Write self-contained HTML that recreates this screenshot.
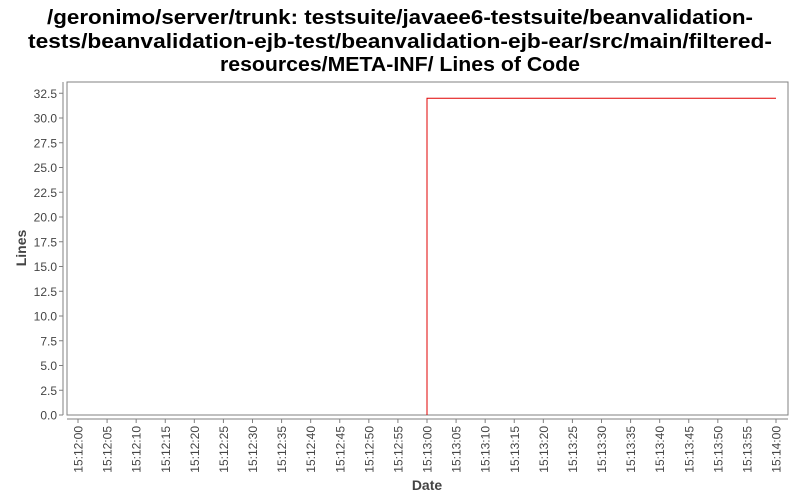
<!DOCTYPE html>
<html><head><meta charset="utf-8"><style>
html,body{margin:0;padding:0;background:#fff;}
svg{display:block;font-family:"Liberation Sans",Tahoma,sans-serif;}
</style></head><body>
<svg id="chart" width="800" height="500" viewBox="0 0 800 500" xmlns="http://www.w3.org/2000/svg">
<g font-weight="bold" font-size="20" text-anchor="middle" fill="#000">
<text x="400" y="24" textLength="706" lengthAdjust="spacingAndGlyphs">/geronimo/server/trunk: testsuite/javaee6-testsuite/beanvalidation-</text>
<text x="400" y="48" textLength="744" lengthAdjust="spacingAndGlyphs">tests/beanvalidation-ejb-test/beanvalidation-ejb-ear/src/main/filtered-</text>
<text x="400" y="71" textLength="360" lengthAdjust="spacingAndGlyphs">resources/META-INF/ Lines of Code</text>
</g>
<rect x="67" y="82" width="721" height="333" fill="#fff" stroke="#808080" stroke-width="1"/>
<line x1="63" y1="82" x2="63" y2="415" stroke="#808080"/>
<line x1="67" y1="419" x2="788" y2="419" stroke="#808080"/>
<g id="yticks"></g>
<g id="xticks"></g>
<g id="series"></g>
<text transform="translate(26,248) rotate(-90)" text-anchor="middle" font-size="14" font-weight="bold" fill="#444">Lines</text>
<text x="427" y="490" text-anchor="middle" font-size="14" font-weight="bold" fill="#444">Date</text>
</svg>
<script>
const yTicks = [0,2.5,5,7.5,10,12.5,15,17.5,20,22.5,25,27.5,30,32.5];
const xTickSeconds = [0,5,10,15,20,25,30,35,40,45,50,55,60,65,70,75,80,85,90,95,100,105,110,115,120];
const xTickLabels = ["15:12:00","15:12:05","15:12:10","15:12:15","15:12:20","15:12:25","15:12:30","15:12:35","15:12:40","15:12:45","15:12:50","15:12:55","15:13:00","15:13:05","15:13:10","15:13:15","15:13:20","15:13:25","15:13:30","15:13:35","15:13:40","15:13:45","15:13:50","15:13:55","15:14:00"];
const seriesSeconds = [60,60,120];
const seriesValues = [0,32,32];

const NS="http://www.w3.org/2000/svg";
function xs(s){return 78 + s*(349/60);}
function ys(v){return 415 - v*(297/30);}
const yg=document.getElementById('yticks');
yTicks.forEach(v=>{
  const y=ys(v);
  const l=document.createElementNS(NS,'line');
  
  
  l.setAttribute('x1',59);l.setAttribute('x2',63);l.setAttribute('y1',y);l.setAttribute('y2',y);l.setAttribute('stroke','#808080');
  yg.appendChild(l);
  const t=document.createElementNS(NS,'text');
  
  
  t.setAttribute('x',57);t.setAttribute('y',y+4.5);t.setAttribute('text-anchor','end');t.setAttribute('font-size','12');t.setAttribute('fill','#444');
  t.textContent=v.toFixed(1);
  yg.appendChild(t);
});
const xg=document.getElementById('xticks');
xTickSeconds.forEach((s,i)=>{
  const x=xs(s);
  const l=document.createElementNS(NS,'line');
  
  
  l.setAttribute('x1',x);l.setAttribute('x2',x);l.setAttribute('y1',419);l.setAttribute('y2',423);l.setAttribute('stroke','#808080');
  xg.appendChild(l);
  const t=document.createElementNS(NS,'text');
  
  
  t.setAttribute('transform','translate('+(x+4.5)+',426) rotate(-90)');
  t.setAttribute('text-anchor','end');t.setAttribute('font-size','12');t.setAttribute('fill','#444');
  t.textContent=xTickLabels[i];
  xg.appendChild(t);
});
const sg=document.getElementById('series');
const pts=seriesSeconds.map((s,i)=>xs(s)+','+ys(seriesValues[i])).join(' ');
const p=document.createElementNS(NS,'polyline');


p.setAttribute('points',pts);p.setAttribute('fill','none');p.setAttribute('stroke','#e00000');p.setAttribute('stroke-width','1');
sg.appendChild(p);
</script>
</body></html>
